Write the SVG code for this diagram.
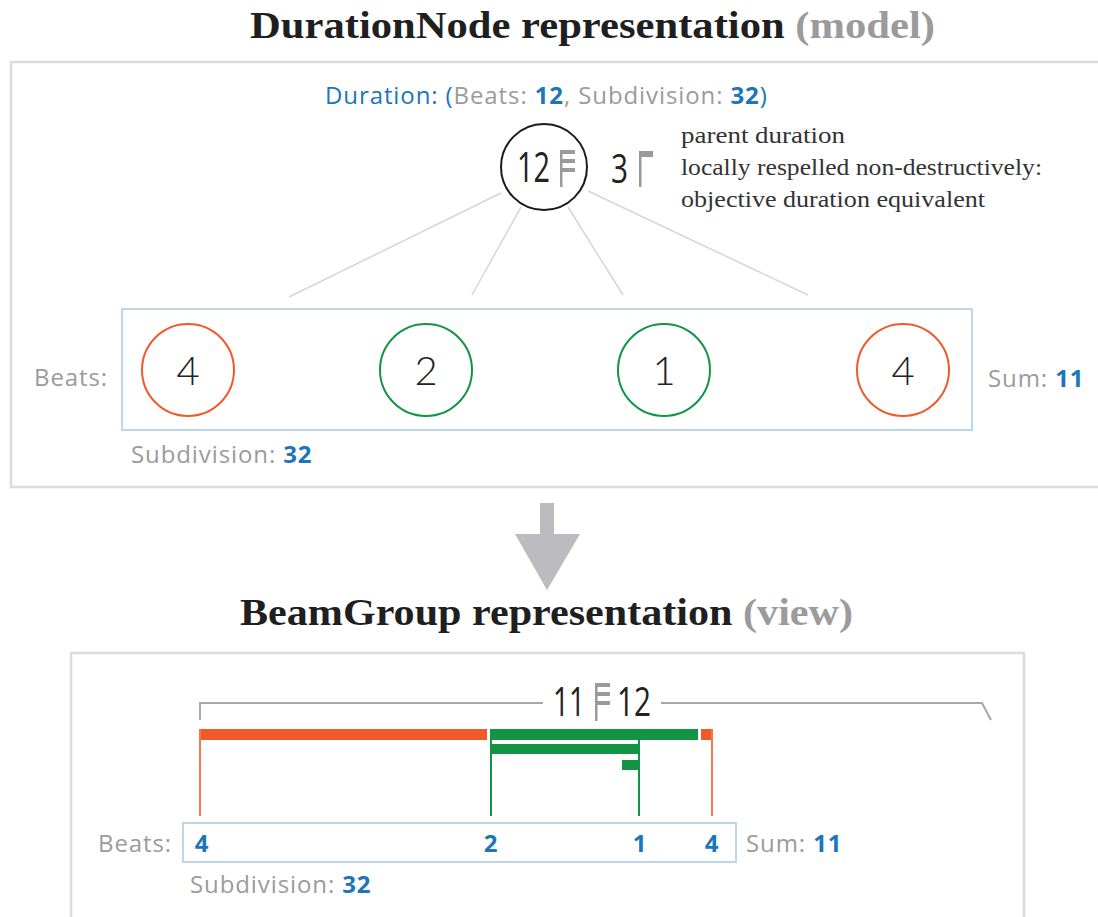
<svg xmlns="http://www.w3.org/2000/svg" width="1098" height="917" viewBox="0 0 1098 917">
  <style>
    .title { font-family: "Liberation Serif", serif; font-weight: bold; font-size: 38px; fill: #1f1f1f; }
    .title .aside { fill: #9b9b9b; }
    .sans { font-family: "Open Sans", "Liberation Sans", sans-serif; font-size: 24px; letter-spacing: 0.9px; fill: #9b9b9b; }
    .blue { fill: #1d75bc; }
    .num { font-weight: bold; fill: #1d75bc; }
    .note { font-family: "Liberation Serif", serif; font-size: 24px; fill: #333; }
    .digit { font-family: "Lato", "Open Sans", sans-serif; font-weight: 300; fill: #222; }
    .cond { font-family: "Open Sans", "Lato", sans-serif; font-weight: 400; fill: #222; }
    .frame { fill: none; stroke: #dcdcdc; stroke-width: 2.5; }
    .group { fill: none; stroke: #bcd6ea; stroke-width: 2; }
    .edge { stroke: #d6d6d6; stroke-width: 1.5; fill: none; }
    .flag { fill: #9a9a9a; }
    .orange { fill: none; stroke: #f37a50; stroke-width: 2; }
    .green { fill: none; stroke: #129444; stroke-width: 2; }
  </style>

  <!-- model section -->
  <text class="title" x="250" y="38" textLength="685" lengthAdjust="spacingAndGlyphs">DurationNode representation <tspan class="aside">(model)</tspan></text>
  <rect class="frame" x="11" y="62" width="1100" height="425"/>

  <text class="sans" x="325" y="104"><tspan class="blue">Duration: (</tspan>Beats: <tspan class="num">12</tspan>, Subdivision: <tspan class="num">32</tspan><tspan class="blue">)</tspan></text>

  <!-- connectors from parent to children -->
  <g id="connectors">
    <line class="edge" x1="501" y1="193" x2="289" y2="297"/>
    <line class="edge" x1="521" y1="207" x2="472" y2="295"/>
    <line class="edge" x1="568" y1="207" x2="623" y2="295"/>
    <line class="edge" x1="588" y1="191" x2="808" y2="295"/>
  </g>

  <g id="parent">
    <circle cx="544" cy="167" r="43" fill="#fff" stroke="#1a1a1a" stroke-width="2"/>
    <text class="cond" x="517" y="182" font-size="42" textLength="33" lengthAdjust="spacingAndGlyphs">12</text>
    <rect class="flag" x="560" y="150" width="2.5" height="37"/>
    <rect class="flag" x="562" y="150" width="13" height="4"/>
    <rect class="flag" x="562" y="159" width="13" height="4"/>
    <rect class="flag" x="562" y="168" width="13" height="4"/>
    <text class="cond" x="611" y="183" font-size="40" textLength="17" lengthAdjust="spacingAndGlyphs">3</text>
    <rect class="flag" x="639" y="151" width="2.5" height="36"/>
    <rect class="flag" x="641" y="151" width="12" height="6"/>
  </g>

  <g id="annotation">
    <text class="note" x="681" y="143" textLength="164" lengthAdjust="spacingAndGlyphs">parent duration</text>
    <text class="note" x="681" y="175" textLength="361" lengthAdjust="spacingAndGlyphs">locally respelled non-destructively:</text>
    <text class="note" x="681" y="207" textLength="304" lengthAdjust="spacingAndGlyphs">objective duration equivalent</text>
  </g>

  <g id="children">
    <rect class="group" x="122" y="309" width="850" height="121"/>
    <text class="sans" x="34" y="386">Beats:</text>
    <g id="child-1">
      <circle cx="188" cy="370" r="46" fill="none" stroke="#f05a28" stroke-width="2"/>
      <text class="digit" x="188" y="385" font-size="40" text-anchor="middle">4</text>
    </g>
    <g id="child-2">
      <circle cx="426" cy="370" r="46" fill="none" stroke="#129444" stroke-width="2"/>
      <text class="digit" x="426" y="385" font-size="40" text-anchor="middle">2</text>
    </g>
    <g id="child-3">
      <circle cx="664" cy="370" r="46" fill="none" stroke="#129444" stroke-width="2"/>
      <text class="digit" x="664" y="385" font-size="40" text-anchor="middle">1</text>
    </g>
    <g id="child-4">
      <circle cx="903" cy="370" r="46" fill="none" stroke="#f05a28" stroke-width="2"/>
      <text class="digit" x="903" y="385" font-size="40" text-anchor="middle">4</text>
    </g>
    <text class="sans" x="988" y="387">Sum: <tspan class="num">11</tspan></text>
    <text class="sans" x="131" y="463">Subdivision: <tspan class="num">32</tspan></text>
  </g>

  <!-- transition arrow -->
  <g id="arrow" fill="#bcbcc0">
    <rect x="540" y="503" width="14" height="32"/>
    <polygon points="515,534 580,534 547,590"/>
  </g>

  <!-- view section -->
  <text class="title" x="240" y="625" textLength="613" lengthAdjust="spacingAndGlyphs">BeamGroup representation <tspan class="aside">(view)</tspan></text>
  <rect class="frame" x="71" y="653" width="953" height="300"/>

  <g id="bracket">
    <polyline points="200,720 200,703 543,703" fill="none" stroke="#a8a8a8" stroke-width="2"/>
    <polyline points="661,703 982,703 991,720" fill="none" stroke="#a8a8a8" stroke-width="2"/>
    <text class="cond" x="553" y="716" font-size="40" textLength="32" lengthAdjust="spacingAndGlyphs">11</text>
    <rect class="flag" x="595" y="683" width="2.5" height="38"/>
    <rect class="flag" x="597" y="683" width="13" height="4"/>
    <rect class="flag" x="597" y="692" width="13" height="4"/>
    <rect class="flag" x="597" y="701" width="13" height="4"/>
    <text class="cond" x="617" y="716" font-size="40" textLength="34" lengthAdjust="spacingAndGlyphs">12</text>
  </g>

  <g id="beams">
    <rect x="199" y="729" width="288" height="11" fill="#f05a28"/>
    <rect x="490" y="729" width="208" height="11" fill="#129444"/>
    <rect x="701" y="729" width="12" height="11" fill="#f05a28"/>
    <rect x="490" y="744" width="150" height="10" fill="#129444"/>
    <rect x="622" y="760" width="18" height="10" fill="#129444"/>
    <line class="orange" x1="200" y1="729" x2="200" y2="816"/>
    <line class="green" x1="491" y1="729" x2="491" y2="816"/>
    <line class="green" x1="639" y1="740" x2="639" y2="816"/>
    <line class="orange" x1="712" y1="729" x2="712" y2="816"/>
  </g>

  <g id="beats">
    <rect class="group" x="183" y="823" width="553" height="39" stroke-width="1.5"/>
    <text class="sans" x="98" y="852">Beats:</text>
    <text class="sans num" x="202" y="852" text-anchor="middle">4</text>
    <text class="sans num" x="491" y="852" text-anchor="middle">2</text>
    <text class="sans num" x="640" y="852" text-anchor="middle">1</text>
    <text class="sans num" x="712" y="852" text-anchor="middle">4</text>
    <text class="sans" x="746" y="852">Sum: <tspan class="num">11</tspan></text>
    <text class="sans" x="190" y="893">Subdivision: <tspan class="num">32</tspan></text>
  </g>
</svg>
